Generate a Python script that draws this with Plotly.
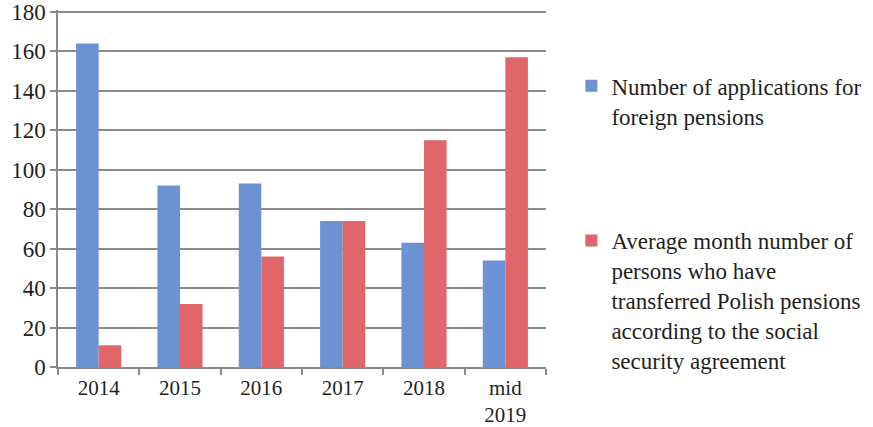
import plotly.graph_objects as go

categories = ["2014", "2015", "2016", "2017", "2018", "mid<br>2019"]
applications = [164, 92, 93, 74, 63, 54]
transferred = [11, 32, 56, 74, 115, 157]
series_names = [
    "Number of applications for<br>foreign pensions",
    "Average month number of<br>persons who have<br>transferred Polish pensions<br>according to the social<br>security agreement",
]
y_ticks = list(range(0, 181, 20))

FONT = "Times New Roman, Times, serif"
GRID = "#8a8a8a"
FS = 23

fig = go.Figure()
fig.add_trace(go.Bar(
    x=categories, y=applications, name=series_names[0],
    legendgroup="a",
    marker=dict(color="#6b93d3", line=dict(width=0)),
))
fig.add_trace(go.Bar(
    x=categories, y=transferred, name=series_names[1],
    legendgroup="b",
    marker=dict(color="#e0666a", line=dict(width=0)),
))

fig.update_layout(
    width=873, height=427,
    margin=dict(l=58, r=327, t=10, b=60, autoexpand=False),
    paper_bgcolor="white", plot_bgcolor="white",
    barmode="group", bargap=0.445, bargroupgap=0,
    font=dict(family=FONT, size=FS, color="#1f1f1f"),
    showlegend=True,
    legend=dict(
        x=1.052, y=0.848, xanchor="left", yanchor="top",
        traceorder="grouped", tracegroupgap=92, valign="top",
        font=dict(family=FONT, size=FS, color="#1f1f1f"),
        bgcolor="rgba(0,0,0,0)", itemwidth=30,
    ),
    xaxis=dict(
        type="category", tickson="boundaries", automargin=False,
        ticks="outside", ticklen=6, tickcolor=GRID, tickwidth=1.5,
        showline=True, linecolor=GRID, linewidth=1.5,
        showgrid=False, tickfont=dict(size=21),
        ticklabelstandoff=1,
    ),
    yaxis=dict(
        range=[0, 181], tickvals=y_ticks, automargin=False,
        ticks="outside", ticklen=6, tickcolor=GRID, tickwidth=1.5,
        showline=True, linecolor=GRID, linewidth=1.5,
        showgrid=True, gridcolor=GRID, gridwidth=1.5,
        zeroline=False, tickfont=dict(size=FS),
    ),
)

fig.write_html("out.html")
